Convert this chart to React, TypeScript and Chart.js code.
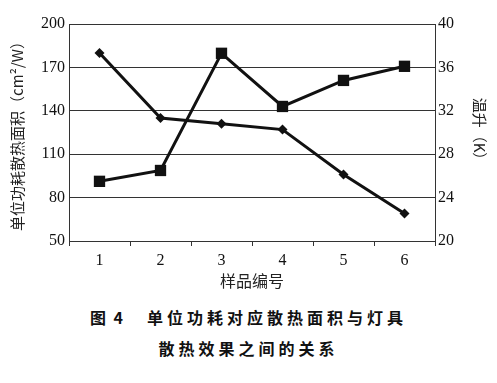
import React, { useEffect, useRef } from 'react';
import { Chart, registerables } from 'chart.js';

Chart.register(...registerables);

const samples = ['1', '2', '3', '4', '5', '6'];
const areaPerWatt = [180, 135, 131, 127, 96, 69];
const tempRise = [25.5, 26.5, 37.3, 32.4, 34.8, 36.1];
const leftRange = { min: 50, max: 200, step: 30 };
const rightRange = { min: 20, max: 40, step: 4 };

const leftTitle = '单位功耗散热面积（cm²/W）';
const rightTitle = '温升（K）';
const xTitle = '样品编号';
const captionLabel = '图 4';
const captionLine1 = '单位功耗对应散热面积与灯具';
const captionLine2 = '散热效果之间的关系';

const CJK = '"Noto Sans CJK SC", "Noto Sans", sans-serif';
const SERIF = '"Liberation Serif", "DejaVu Serif", serif';

export default function App() {
  const ref = useRef<HTMLCanvasElement | null>(null);

  useEffect(() => {
    if (!ref.current) return;
    const chart = new Chart(ref.current, {
      type: 'line',
      data: {
        labels: samples,
        datasets: [
          {
            label: 'area',
            data: areaPerWatt,
            yAxisID: 'yL',
            borderColor: '#111',
            backgroundColor: '#111',
            borderWidth: 3,
            pointStyle: 'rectRot',
            pointRadius: 5,
            pointBorderWidth: 0,
            pointBackgroundColor: '#111',
            tension: 0,
          },
          {
            label: 'temp',
            data: tempRise,
            yAxisID: 'yR',
            borderColor: '#111',
            backgroundColor: '#111',
            borderWidth: 3,
            pointStyle: 'rect',
            pointRadius: 8,
            pointBorderWidth: 0,
            pointBackgroundColor: '#111',
            tension: 0,
          },
        ],
      },
      options: {
        responsive: false,
        animation: false,
        devicePixelRatio: 1,
        layout: { padding: { top: 24, left: 0, right: 0, bottom: 0 } },
        plugins: { legend: { display: false }, tooltip: { enabled: false } },
        scales: {
          x: {
            type: 'category',
            offset: true,
            afterFit: (s: any) => { s.height = 59; },
            grid: { display: true, drawOnChartArea: false, drawTicks: true, tickLength: 5, color: '#333', offset: true },
            border: { display: true, color: '#333', width: 1 },
            ticks: { color: '#111', font: { family: SERIF, size: 16 }, padding: 5 },
            title: { display: true, text: xTitle, color: '#222', font: { family: CJK, size: 16 }, padding: { top: 0, bottom: 9 } },
          },
          yL: {
            type: 'linear',
            position: 'left',
            min: leftRange.min,
            max: leftRange.max,
            afterFit: (s: any) => { s.width = 69; },
            ticks: { stepSize: leftRange.step, color: '#111', font: { family: SERIF, size: 16 }, padding: 4 },
            grid: { color: '#333', lineWidth: 1, drawTicks: false },
            border: { display: true, color: '#333', width: 1 },
            title: { display: true, text: leftTitle, color: '#222', font: { family: CJK, size: 15 }, padding: { top: 8, bottom: 0 } },
          },
          yR: {
            type: 'linear',
            position: 'right',
            min: rightRange.min,
            max: rightRange.max,
            afterFit: (s: any) => { s.width = 62; },
            ticks: { stepSize: rightRange.step, color: '#111', font: { family: SERIF, size: 16 }, padding: 3 },
            grid: { drawOnChartArea: false, drawTicks: false },
            border: { display: true, color: '#333', width: 1 },
            title: { display: true, text: rightTitle, color: '#222', font: { family: CJK, size: 15 }, padding: { top: 8, bottom: 0 } },
          },
        },
      },
    });
    return () => chart.destroy();
  }, []);

  const capStyle: React.CSSProperties = {
    position: 'absolute',
    left: 0,
    width: 497,
    height: 22,
    lineHeight: '22px',
    textAlign: 'center',
    fontFamily: CJK,
    fontWeight: 700,
    fontSize: 16,
    color: '#111',
    whiteSpace: 'nowrap',
  };

  return (
    <div style={{ position: 'absolute', left: 0, top: 0, width: 497, height: 383, background: '#fff' }}>
      <canvas ref={ref} width={497} height={300} style={{ position: 'absolute', left: 0, top: 0, width: 497, height: 300 }} />
      <div style={{ ...capStyle, top: 306 }}>
        <span style={{ letterSpacing: 2 }}>{captionLabel}</span>
        <span style={{ marginLeft: 22, letterSpacing: 4 }}>{captionLine1}</span>
      </div>
      <div style={{ ...capStyle, top: 337, letterSpacing: 4 }}>{captionLine2}</div>
    </div>
  );
}
